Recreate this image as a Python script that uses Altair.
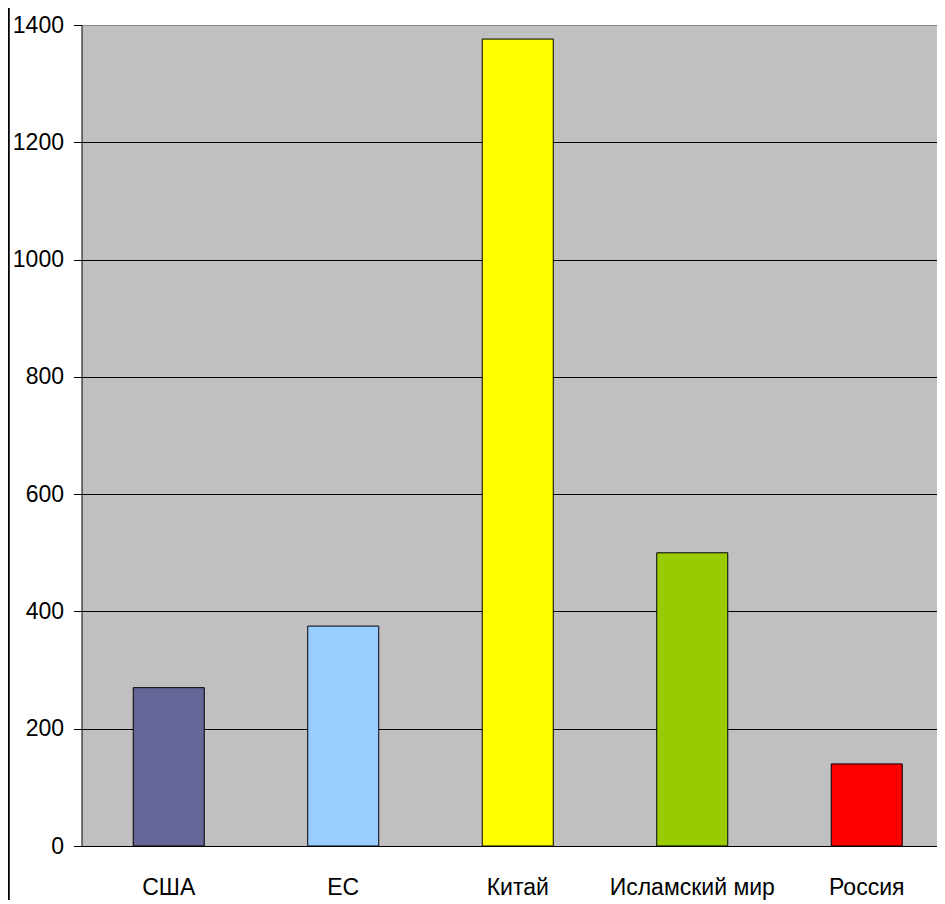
import altair as alt
import pandas as pd

categories = ["США", "ЕС", "Китай", "Исламский мир", "Россия"]
values = [270, 375, 1376, 500, 140]
colors = ["#666699", "#99CCFF", "#FFFF00", "#99CC00", "#FF0000"]
y_ticks = [0, 200, 400, 600, 800, 1000, 1200, 1400]

df = pd.DataFrame({"cat": categories, "val": values, "col": colors})

bars = alt.Chart(df).mark_bar(stroke="black", strokeWidth=1).encode(
    x=alt.X("cat:N", sort=categories,
            scale=alt.Scale(range=[0, 872.5], paddingInner=0.593, paddingOuter=0.2965),
            axis=alt.Axis(title=None, labelAngle=0, ticks=False, domain=True, domainColor="black",
                          domainWidth=1, labelFont="Liberation Sans", labelFontSize=23,
                          labelColor="black", labelPadding=30, grid=False)),
    y=alt.Y("val:Q", scale=alt.Scale(domain=[0, 1400], nice=False),
            axis=alt.Axis(title=None, values=y_ticks, format="d", tickSize=8, tickColor="black",
                          domainColor="black", labelFont="Liberation Sans",
                          labelFontSize=23, labelColor="black", labelPadding=10,
                          grid=True, gridWidth=1,
                          gridColor={"condition": {"test": "datum.value === 1400", "value": "#8c8c8c"},
                                     "value": "black"})),
    color=alt.Color("col:N", scale=None, legend=None),
)

border = alt.Chart(df).mark_rule(color="black", strokeWidth=1.5).encode(
    x=alt.value(-73), y=alt.value(-17), y2=alt.value(879)
)

chart = alt.layer(bars, border).properties(
    width=855.5, height=821,
    background="white",
    autosize=alt.AutoSizeParams(type="none"),
    padding={"left": 73.5, "top": 17, "right": 0, "bottom": 54},
).configure_view(fill="#C0C0C0", stroke="transparent")

chart.save("out.html", embed_options={"renderer": "svg", "actions": False})
